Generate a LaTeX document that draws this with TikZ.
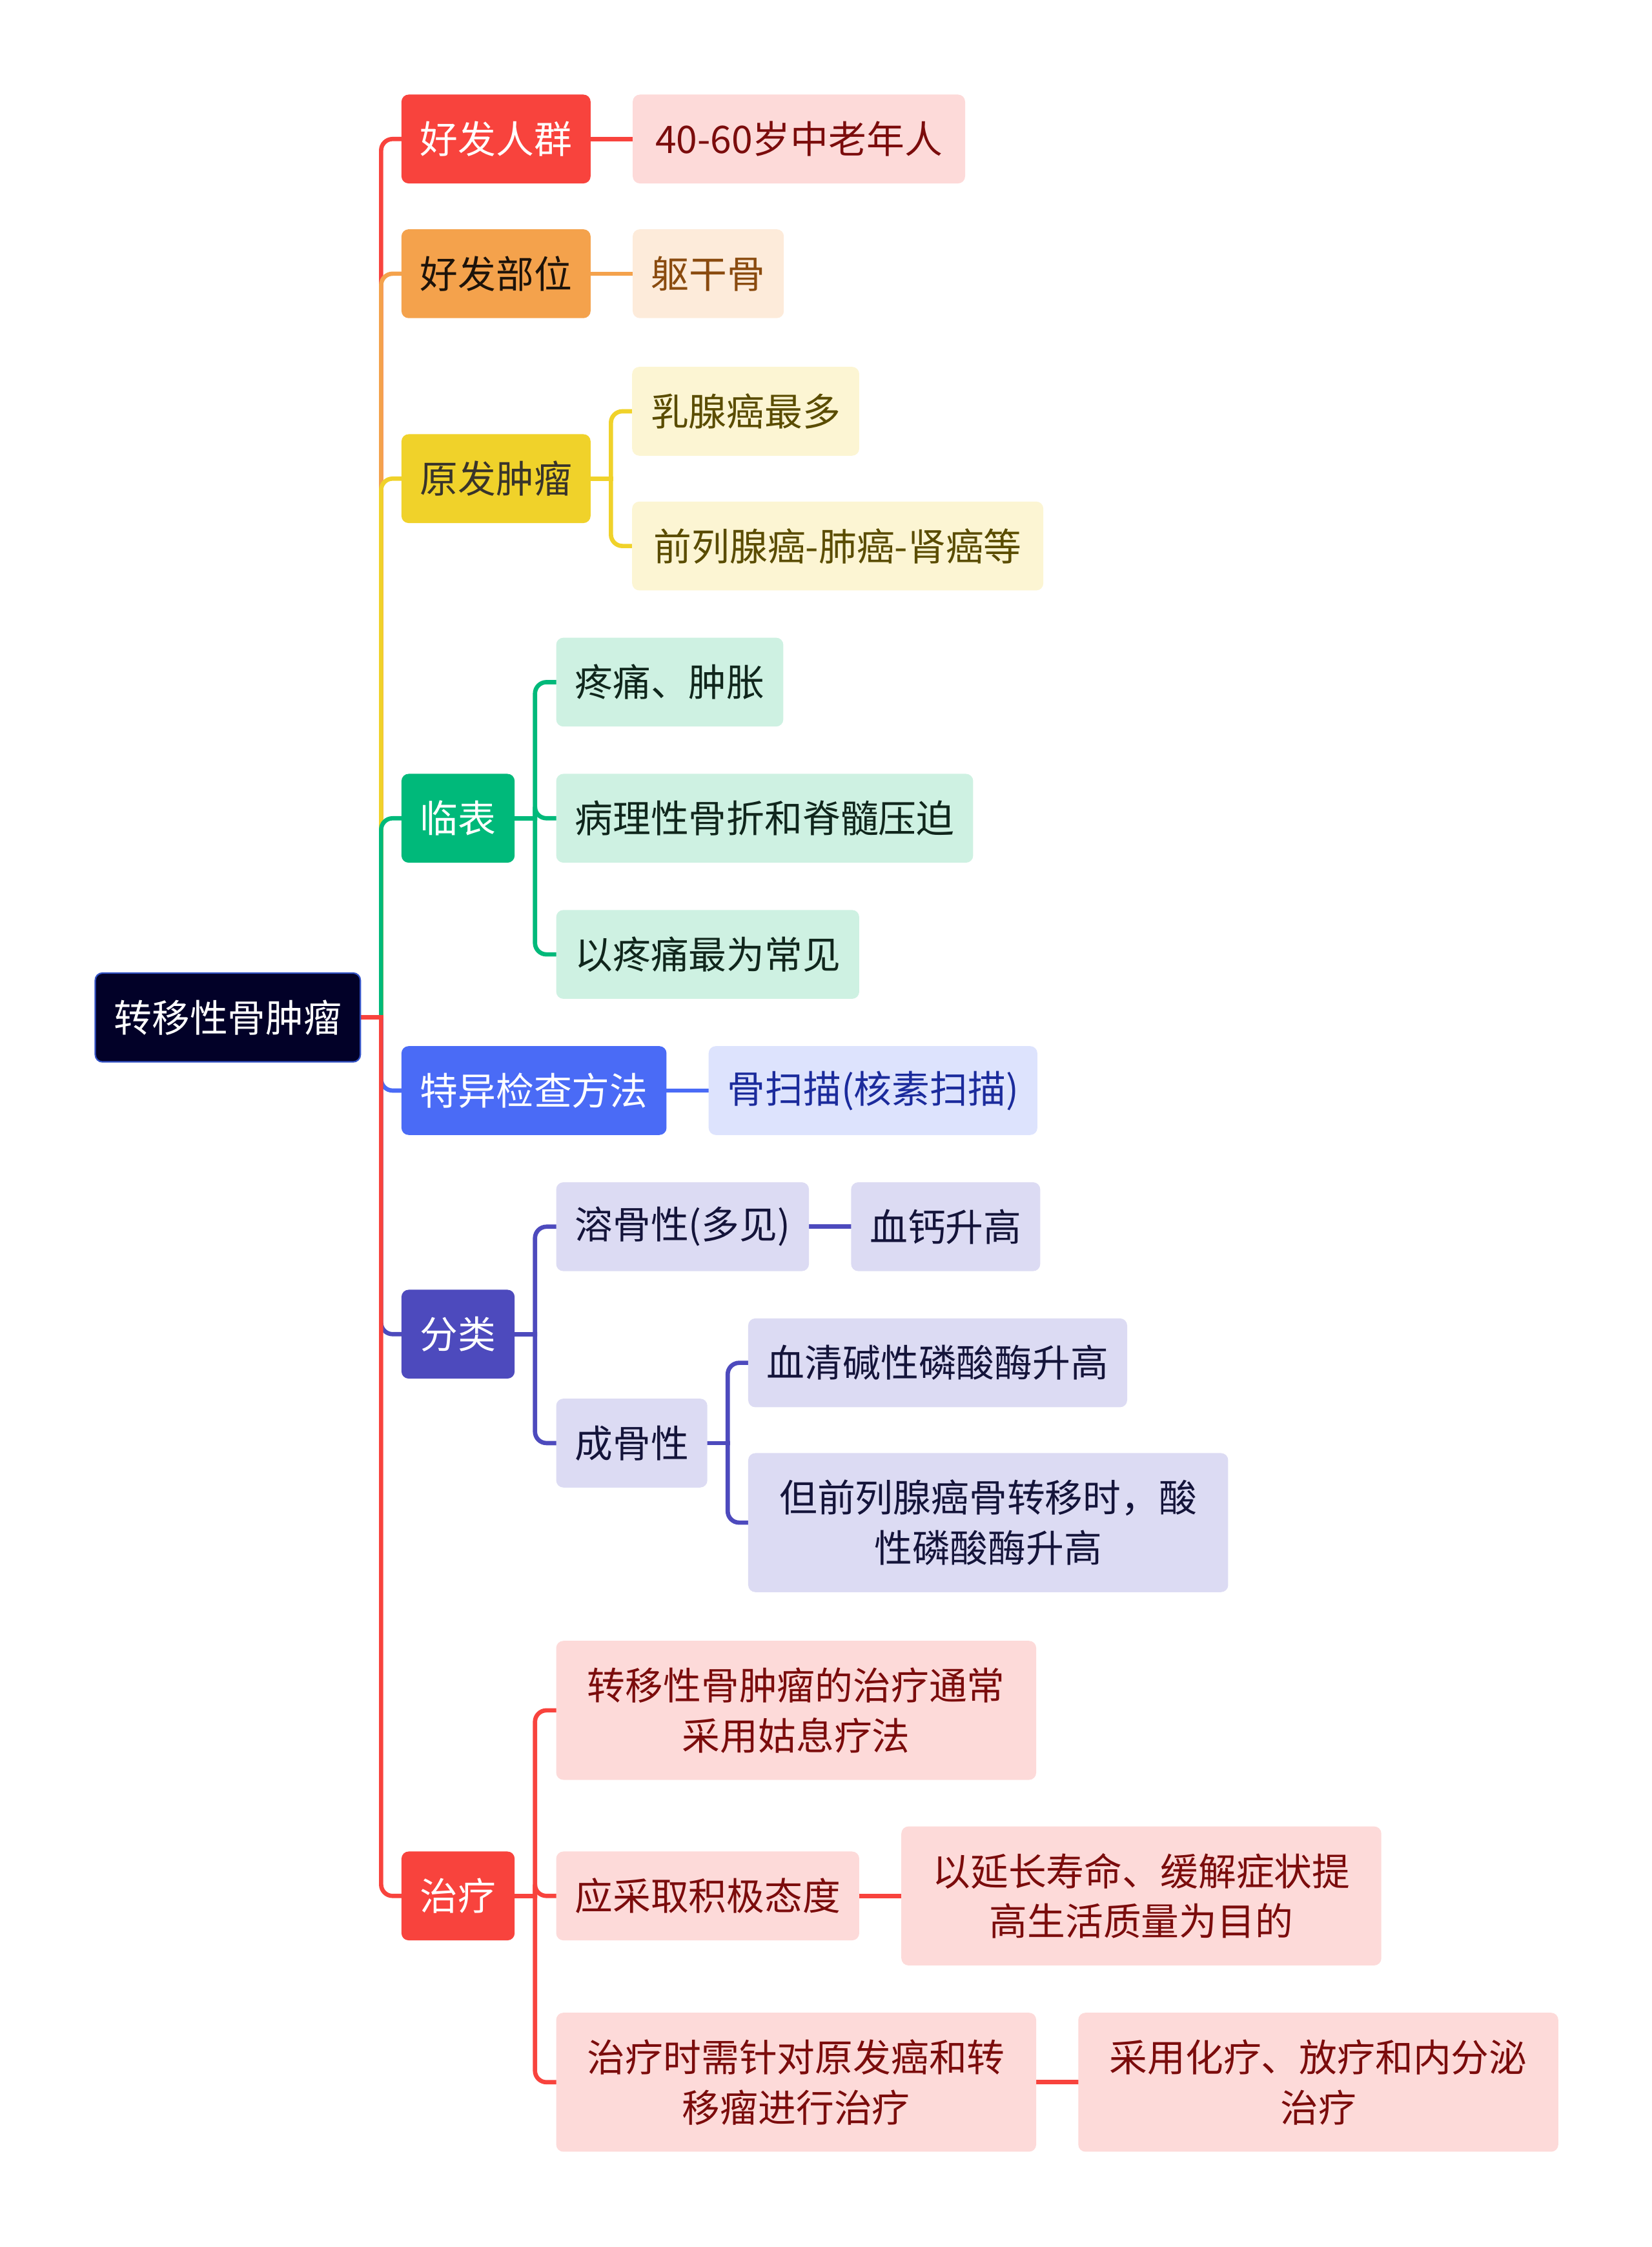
\documentclass[tikz,border=0pt]{standalone}
\usepackage{fontspec}
\setmainfont{Noto Sans CJK SC}
\usetikzlibrary{positioning,backgrounds}
\definecolor{rootbg}{HTML}{020128}
\definecolor{rootedge}{HTML}{3352C4}
\definecolor{cred}{HTML}{F8433D}
\definecolor{corange}{HTML}{F4A24C}
\definecolor{cyellow}{HTML}{F0D22A}
\definecolor{cgreen}{HTML}{00B97A}
\definecolor{cblue}{HTML}{4A6BF6}
\definecolor{cindigo}{HTML}{4D4ABD}
\definecolor{pinkbg}{HTML}{FDDAD9}
\definecolor{peachbg}{HTML}{FDEBDA}
\definecolor{creambg}{HTML}{FCF5D3}
\definecolor{mintbg}{HTML}{CEF1E2}
\definecolor{skybg}{HTML}{DDE3FD}
\definecolor{lilacbg}{HTML}{DCDBF3}
\definecolor{redtx}{HTML}{7B0C0C}
\definecolor{browntx}{HTML}{8A4B0F}
\definecolor{olivetx}{HTML}{5A4C00}
\definecolor{greentx}{HTML}{10261C}
\definecolor{bluetx}{HTML}{1B2B9C}
\definecolor{indigotx}{HTML}{14143A}
\newcommand{\mapfont}{\fontsize{26.5}{35}\selectfont}

\begin{document}
\begin{tikzpicture}[x=1pt,y=-1pt,
  lone/.style={rounded corners=5pt,minimum height=62pt,inner xsep=13pt,
               inner ysep=0pt,font=\mapfont,anchor=west},
  rt/.style={lone,draw=rootedge,line width=1pt,fill=rootbg,text=white},
  dbl/.style={minimum height=97pt,minimum width=335pt,align=center},
  ln/.style={line width=3pt,line cap=rect,rounded corners=8pt}
]
\useasboundingbox (0,0) rectangle (1153,1568);
% main topic and first level
\node[rt] (root) at (66,710) {转移性骨肿瘤};
\node[lone,fill=cred,text=white] (hfrq) at (280,97) {好发人群};
\node[lone,fill=corange,text=black!85!brown] (hfbw) at (280,191) {好发部位};
\node[lone,fill=cyellow,text=black!80!olive] (yfzl) at (280,334) {原发肿瘤};
\node[lone,fill=cgreen,text=white] (lb) at (280,571) {临表};
\node[lone,fill=cblue,text=white] (tyjc) at (280,761) {特异检查方法};
\node[lone,fill=cindigo,text=white] (fl) at (280,931) {分类};
\node[lone,fill=cred,text=white] (zl) at (280,1323) {治疗};
% second level
\node[lone,fill=pinkbg,text=redtx,minimum width=232pt,right=29pt of hfrq] (a1)
     {40-60岁中老年人};
\node[lone,fill=peachbg,text=browntx,right=29pt of hfbw] (b1) {躯干骨};
\node[lone,fill=creambg,text=olivetx] (c1) at (441,287) {乳腺癌最多};
\node[lone,fill=creambg,text=olivetx,minimum width=287pt] (c2) at (441,381)
     {前列腺癌-肺癌-肾癌等};
\node[lone,fill=mintbg,text=greentx] (d1) at (388,476) {疼痛、肿胀};
\node[lone,fill=mintbg,text=greentx] (d2) at (388,571) {病理性骨折和脊髓压迫};
\node[lone,fill=mintbg,text=greentx] (d3) at (388,666) {以疼痛最为常见};
\node[lone,fill=skybg,text=bluetx,right=29pt of tyjc] (e1) {骨扫描(核素扫描)};
\node[lone,fill=lilacbg,text=indigotx] (f1) at (388,856) {溶骨性(多见)};
\node[lone,fill=lilacbg,text=indigotx,right=29pt of f1] (f2) {血钙升高};
\node[lone,fill=lilacbg,text=indigotx] (f3) at (388,1007) {成骨性};
\node[lone,fill=lilacbg,text=indigotx] (f4) at (522,951) {血清碱性磷酸酶升高};
\node[lone,dbl,fill=lilacbg,text=indigotx] (f5) at (522,1062.5)
     {但前列腺癌骨转移时，酸\\性磷酸酶升高};
\node[lone,dbl,fill=pinkbg,text=redtx] (g1) at (388,1193.5)
     {转移性骨肿瘤的治疗通常\\采用姑息疗法};
\node[lone,fill=pinkbg,text=redtx] (g2) at (388,1323) {应采取积极态度};
\node[lone,dbl,fill=pinkbg,text=redtx,right=29pt of g2] (g3)
     {以延长寿命、缓解症状提\\高生活质量为目的};
\node[lone,dbl,fill=pinkbg,text=redtx] (g4) at (388,1453)
     {治疗时需针对原发癌和转\\移瘤进行治疗};
\node[lone,dbl,fill=pinkbg,text=redtx,right=29pt of g4] (g5)
     {采用化疗、放疗和内分泌\\治疗};
% junctions
\coordinate[right=14pt of root] (rj);
\coordinate[right=14pt of yfzl] (yj);
\coordinate[right=14pt of lb] (lj);
\coordinate[right=14pt of fl] (fj);
\coordinate[right=14pt of f3] (cj);
\coordinate[right=14pt of zl] (zj);
\begin{scope}[on background layer]
\draw[ln,cred] (rj) |- (hfrq.west);
\draw[ln,corange] (rj) |- (hfbw.west);
\draw[ln,cyellow] (rj) |- (yfzl.west);
\draw[ln,cgreen] (rj) |- (lb.west);
\draw[ln,cblue] (rj) |- (tyjc.west);
\draw[ln,cindigo] (rj) |- (fl.west);
\draw[ln,cred] (rj) |- (zl.west);
\draw[ln,cred] (root.east) -- (rj);
\draw[ln,cred] (hfrq) -- (a1);
\draw[ln,corange] (hfbw) -- (b1);
\draw[ln,cyellow] (yfzl.east) -- (yj);
\draw[ln,cyellow] (yj) |- (c1.west);
\draw[ln,cyellow] (yj) |- (c2.west);
\draw[ln,cgreen] (lb.east) -- (lj);
\draw[ln,cgreen] (lj) |- (d1.west);
\draw[ln,cgreen] (lj) |- (d2.west);
\draw[ln,cgreen] (lj) |- (d3.west);
\draw[ln,cblue] (tyjc) -- (e1);
\draw[ln,cindigo] (fl.east) -- (fj);
\draw[ln,cindigo] (fj) |- (f1.west);
\draw[ln,cindigo] (fj) |- (f3.west);
\draw[ln,cindigo] (f1) -- (f2);
\draw[ln,cindigo] (f3.east) -- (cj);
\draw[ln,cindigo] (cj) |- (f4.west);
\draw[ln,cindigo] (cj) |- (f5.west);
\draw[ln,cred] (zl.east) -- (zj);
\draw[ln,cred] (zj) |- (g1.west);
\draw[ln,cred] (zj) |- (g2.west);
\draw[ln,cred] (zj) |- (g4.west);
\draw[ln,cred] (g2) -- (g3);
\draw[ln,cred] (g4) -- (g5);
\end{scope}
\end{tikzpicture}
\end{document}
